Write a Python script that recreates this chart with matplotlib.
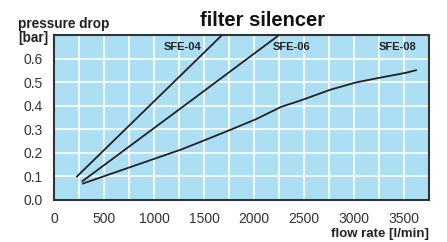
import matplotlib.pyplot as plt
from matplotlib.ticker import MultipleLocator

plt.rcParams['font.family'] = ['Liberation Sans', 'DejaVu Sans']

# flow rate [l/min] vs pressure drop [bar]
sfe04_x = [230, 1680]
sfe04_y = [0.10, 0.70]
sfe06_x = [285, 1270, 2250]
sfe06_y = [0.08, 0.39, 0.70]
sfe08_x = [290, 1270, 1520, 1770, 2020, 2270, 2470, 2770, 3020, 3270, 3520, 3620]
sfe08_y = [0.07, 0.214, 0.256, 0.299, 0.343, 0.395, 0.423, 0.469, 0.499, 0.52, 0.54, 0.551]

labels = ['SFE-04', 'SFE-06', 'SFE-08']
label_x = [1290, 2380, 3440]

fig = plt.figure(figsize=(4.47, 2.42), dpi=100)
ax = fig.add_axes([0.1208, 0.1736, 0.8389, 0.6814])
ax.set_facecolor('#addff4')

for xs, ys in [(sfe04_x, sfe04_y), (sfe06_x, sfe06_y), (sfe08_x, sfe08_y)]:
    ax.plot(xs, ys, color='#222222', lw=1.3, zorder=3)

for name, lx in zip(labels, label_x):
    ax.text(lx, 0.65, name, ha='center', va='center', fontsize=8,
            fontweight='bold', color='#222222', zorder=4)

ax.set_xlim(0, 3750)
ax.set_ylim(0, 0.7)
ax.set_xticks([0, 500, 1000, 1500, 2000, 2500, 3000, 3500])
ax.set_yticks([0.0, 0.1, 0.2, 0.3, 0.4, 0.5, 0.6])
ax.set_yticklabels(['0.0', '0.1', '0.2', '0.3', '0.4', '0.5', '0.6'])
ax.xaxis.set_minor_locator(MultipleLocator(250))
ax.grid(which='both', axis='x', color='white', lw=1.2, zorder=1)
ax.grid(which='major', axis='y', color='white', lw=1.2, zorder=1)
ax.set_axisbelow(True)
ax.tick_params(which='both', length=0)
ax.tick_params(axis='x', pad=9, labelsize=10, labelcolor='#333333')
ax.tick_params(axis='y', pad=8, labelsize=10, labelcolor='#333333')
for s in ax.spines.values():
    s.set_color('#333333')
    s.set_linewidth(1.5)

fig.text(263 / 447, 1 - 20 / 242, 'filter silencer', ha='center', va='center',
         fontsize=14.5, fontweight='bold', color='#111111')
fig.text(18 / 447, 1 - 24 / 242, 'pressure drop', ha='left', va='center',
         fontsize=9.8, fontweight='bold', color='#222222')
fig.text(18 / 447, 1 - 38 / 242, '[bar]', ha='left', va='center',
         fontsize=9.8, fontweight='bold', color='#222222')
fig.text(429 / 447, 1 - 234 / 242, 'flow rate [l/min]', ha='right', va='center',
         fontsize=9.5, fontweight='bold', color='#222222')

fig.savefig('out.png', dpi=100)
